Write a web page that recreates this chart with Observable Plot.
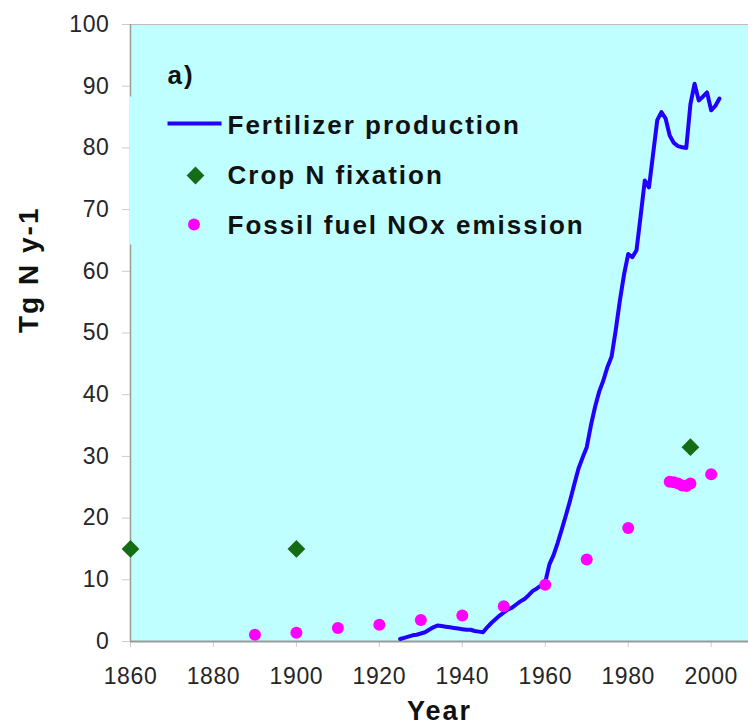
<!DOCTYPE html>
<html>
<head>
<meta charset="utf-8">
<script src="https://cdn.jsdelivr.net/npm/d3@7"></script>
<script src="https://cdn.jsdelivr.net/npm/@observablehq/plot@0.6"></script>
<style>
  html, body { margin: 0; padding: 0; background: white; }
  g[font-weight="bold"] text { letter-spacing: 2px; }
  g[aria-label="x-axis tick label"] text, g[aria-label="y-axis tick label"] text { letter-spacing: 0.6px; }
</style>
</head>
<body>
<div id="chart"></div>
<script>
// ---- data ----
const fertYears = [1925,1926,1927,1928,1929,1930,1931,1932,1933,1934,1935,1936,1937,1938,1939,1940,1941,1942,1943,1944,1945,1946,1947,1948,1949,1950,1951,1952,1953,1954,1955,1956,1957,1958,1959,1960,1961,1962,1963,1964,1965,1966,1967,1968,1969,1970,1971,1972,1973,1974,1975,1976,1977,1978,1979,1980,1981,1982,1983,1984,1985,1986,1987,1988,1989,1990,1991,1992,1993,1994,1995,1996,1997,1998,1999,2000,2001,2002];
const fertValues = [0.4,0.6,0.8,1.0,1.1,1.3,1.5,1.9,2.3,2.6,2.5,2.4,2.3,2.2,2.1,2.0,1.9,1.9,1.7,1.6,1.5,2.3,3.0,3.6,4.2,4.7,5.2,5.5,6.0,6.5,6.9,7.5,8.2,8.6,9.1,9.6,12.5,14.0,16.0,18.2,20.5,22.9,25.5,28.0,29.8,31.5,35.0,38.0,40.5,42.3,44.5,46.2,50.5,55.3,59.5,62.8,62.3,63.4,69.0,74.7,73.6,79.0,84.5,85.8,84.8,82.0,80.8,80.3,80.1,80.0,87.1,90.4,87.7,88.3,89.0,86.1,86.8,88.0];
const cropYears = [1860, 1900, 1995];
const cropValues = [15, 15, 31.5];
const noxYears = [1890,1900,1910,1920,1930,1940,1950,1960,1970,1980,1990,1991,1992,1993,1994,1995,2000];
const noxValues = [1.1,1.4,2.2,2.7,3.5,4.2,5.7,9.2,13.3,18.4,25.9,25.8,25.6,25.3,25.2,25.6,27.1];
const xTicks = [1860,1880,1900,1920,1940,1960,1980,2000];
const yTicks = [0,10,20,30,40,50,60,70,80,90,100];
const seriesNames = ["Fertilizer production", "Crop N fixation", "Fossil fuel NOx emission"];
const panelLabel = "a)";
const xLabel = "Year";
const yLabel = "Tg N y-1";

// ---- tables ----
const fert = fertYears.map((year, i) => ({year, value: fertValues[i]}));
const crop = cropYears.map((year, i) => ({year, value: cropValues[i]}));
const nox = noxYears.map((year, i) => ({year, value: noxValues[i]}));

const blue = "#2200ff", green = "#146c14", pink = "#ff00ff", cyan = "#c0ffff";

const lineSymbol = { draw(ctx) { ctx.moveTo(-27, 0); ctx.lineTo(27, 0); } };
const boxSymbol = { draw(ctx) { ctx.rect(-1, 72, 470, 148); } };

const chart = Plot.plot({
  width: 748,
  height: 726,
  marginLeft: 130,
  marginRight: 0,
  marginTop: 24,
  marginBottom: 85,
  style: { fontFamily: "'Liberation Sans', Arial, Helvetica, sans-serif", background: "white", overflow: "visible" },
  x: { domain: [1860, 2009] },
  y: { domain: [0, 100] },
  marks: [
    Plot.frame({ fill: cyan, stroke: null }),
    Plot.ruleY([100], { stroke: "#bdbdbd", strokeWidth: 1 }),
    Plot.axisY({ ticks: yTicks, tickSize: 8, tickPadding: 13, fontSize: 23, stroke: "#cccccc", fill: "#262626", label: null }),
    Plot.axisX({ ticks: xTicks, tickSize: 6, tickPadding: 20, tickFormat: "d", fontSize: 23, stroke: "#cccccc", fill: "#262626", label: null }),
    Plot.ruleX([1860], { stroke: "#9a9a9a", strokeWidth: 1.5 }),
    Plot.ruleY([0], { stroke: "#9a9a9a", strokeWidth: 2 }),
    // legend box (covers axis line like the original)
    Plot.dot([0], { frameAnchor: "top-left", symbol: boxSymbol, fill: cyan, stroke: null }),
    // data
    Plot.line(fert, { x: "year", y: "value", stroke: blue, strokeWidth: 4, strokeLinejoin: "round" }),
    Plot.dot(crop, { x: "year", y: "value", symbol: "diamond2", r: 8, fill: green, stroke: null }),
    Plot.dot(nox, { x: "year", y: "value", r: 6, fill: pink, stroke: null }),
    // legend
    Plot.text([panelLabel], { text: d => d, frameAnchor: "top-left", dx: 37, dy: 59, lineAnchor: "bottom", textAnchor: "start", fontSize: 26, fontWeight: "bold", fill: "#111" }),
    Plot.dot([seriesNames[0]], { frameAnchor: "top-left", dx: 64, dy: 99, symbol: lineSymbol, stroke: blue, strokeWidth: 4, fill: "none" }),
    Plot.dot([seriesNames[1]], { frameAnchor: "top-left", dx: 65, dy: 151, symbol: "diamond2", r: 8, fill: green, stroke: null }),
    Plot.dot([seriesNames[2]], { frameAnchor: "top-left", dx: 63.5, dy: 200, r: 6, fill: pink, stroke: null }),
    Plot.text([seriesNames[0]], { text: d => d, frameAnchor: "top-left", dx: 97, dy: 109, lineAnchor: "bottom", textAnchor: "start", fontSize: 26, fontWeight: "bold", fill: "#111" }),
    Plot.text([seriesNames[1]], { text: d => d, frameAnchor: "top-left", dx: 97, dy: 159, lineAnchor: "bottom", textAnchor: "start", fontSize: 26, fontWeight: "bold", fill: "#111" }),
    Plot.text([seriesNames[2]], { text: d => d, frameAnchor: "top-left", dx: 97, dy: 209, lineAnchor: "bottom", textAnchor: "start", fontSize: 26, fontWeight: "bold", fill: "#111" }),
    // axis titles
    Plot.text([xLabel], { text: d => d, frameAnchor: "bottom", dy: 59, lineAnchor: "top", fontSize: 27, fontWeight: "bold", fill: "#111" }),
    Plot.text([yLabel], { text: d => d, frameAnchor: "left", dx: -112, rotate: -90, lineAnchor: "top", fontSize: 28, fontWeight: "bold", fill: "#111" })
  ]
});
document.getElementById("chart").appendChild(chart);
</script>
</body>
</html>
